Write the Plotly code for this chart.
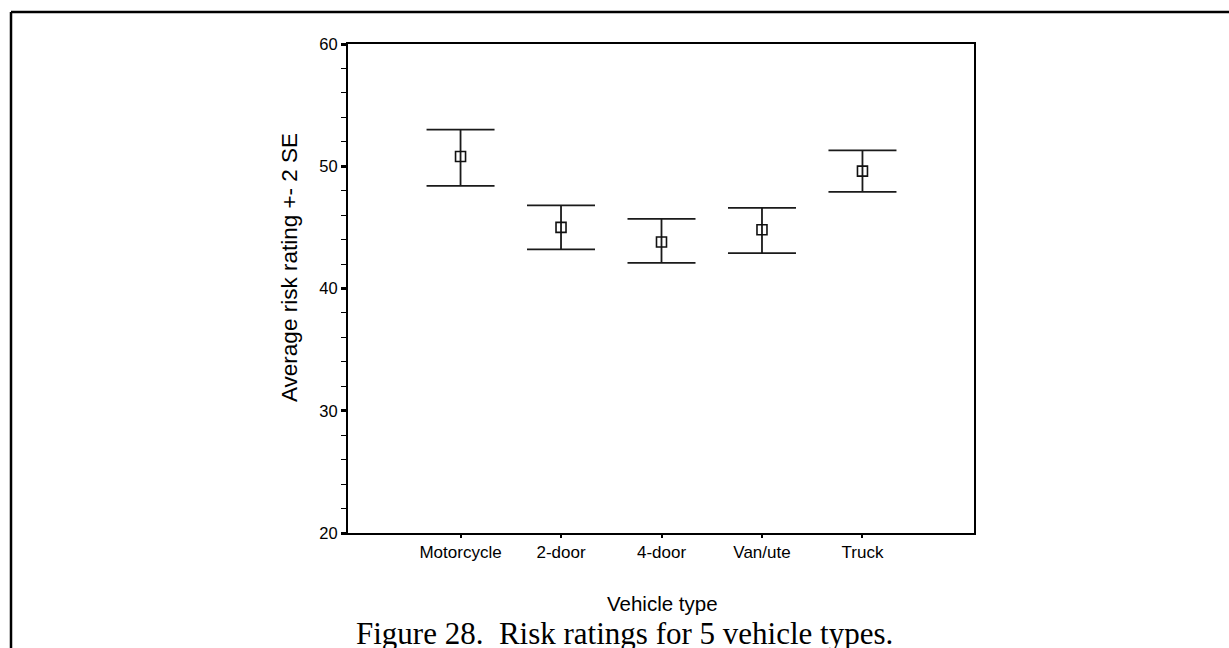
import plotly.graph_objects as go

# ---- data ----
categories = ["Motorcycle", "2-door", "4-door", "Van/ute", "Truck"]
mean_rating = [50.8, 45.0, 43.8, 44.8, 49.6]
upper_2se = [53.0, 46.8, 45.7, 46.6, 51.3]
lower_2se = [48.4, 43.2, 42.1, 42.9, 47.9]
y_ticks = [20, 30, 40, 50, 60]

# ---- layout constants (pixels) ----
W, H = 1229, 648
L, R, T, B = 348, 974, 44, 533
ml, mr, mt, mb = L, W - R, T, H - B
pw, ph = R - L, B - T

def px_x(x):
    return (x - L) / pw

def px_y(y):
    return (B - y) / ph

xpos = list(range(len(categories)))
err_plus = [u - m for u, m in zip(upper_2se, mean_rating)]
err_minus = [m - l for m, l in zip(mean_rating, lower_2se)]

fig = go.Figure()
fig.add_trace(go.Scatter(
    x=xpos, y=mean_rating, mode="markers",
    marker=dict(symbol="square-open", size=10, color="#111111",
                line=dict(width=1.6, color="#111111")),
    error_y=dict(type="data", symmetric=False, array=err_plus, arrayminus=err_minus,
                 color="#1a1a1a", thickness=1.8, width=34),
    showlegend=False, hoverinfo="skip",
))

sans = "Liberation Sans, Arial, sans-serif"
ytick_font = dict(family=sans, size=16.5, color="#000000")
xtick_font = dict(family=sans, size=17, color="#000000")

fig.update_layout(
    width=W, height=H,
    margin=dict(l=ml, r=mr, t=mt, b=mb, pad=0),
    paper_bgcolor="white", plot_bgcolor="white",
    font=dict(family=sans, color="#000000"),
    xaxis=dict(
        range=[-1.12, 5.11], tickmode="array", tickvals=xpos, ticktext=categories,
        showgrid=False, zeroline=False, showline=True, linecolor="#000000",
        linewidth=2, mirror=True, ticks="outside", ticklen=3, tickwidth=2,
        tickcolor="#000000", tickfont=xtick_font,
    ),
    yaxis=dict(
        range=[20, 60], tickmode="array", tickvals=y_ticks,
        showgrid=False, zeroline=False, showline=True, linecolor="#000000",
        linewidth=2, mirror=True, ticks="outside", ticklen=5, tickwidth=3,
        tickcolor="#000000", tickfont=ytick_font,
        minor=dict(dtick=2, ticks="outside", ticklen=5, tickwidth=1, tickcolor="#000000", showgrid=False),
    ),
    annotations=[
        dict(text="Average risk rating +- 2 SE", xref="paper", yref="paper",
             x=px_x(289), y=px_y(268), textangle=-90, showarrow=False,
             xanchor="center", yanchor="middle",
             font=dict(family=sans, size=22.5, color="#000000")),
        dict(text="Vehicle type", xref="paper", yref="paper",
             x=px_x(662), y=px_y(603), showarrow=False,
             xanchor="center", yanchor="middle",
             font=dict(family=sans, size=20.5, color="#000000")),
        dict(text="Figure 28.  Risk ratings for 5 vehicle types.", xref="paper", yref="paper",
             x=px_x(624), y=px_y(633), showarrow=False,
             xanchor="center", yanchor="middle",
             font=dict(family="Liberation Serif, Times New Roman, serif", size=31, color="#000000")),
    ],
    shapes=[
        dict(type="line", xref="paper", yref="paper", x0=px_x(11), x1=px_x(W + 5),
             y0=px_y(12), y1=px_y(12), line=dict(color="#000000", width=2.5)),
        dict(type="line", xref="paper", yref="paper", x0=px_x(11), x1=px_x(11),
             y0=px_y(12), y1=px_y(H + 5), line=dict(color="#000000", width=2.5)),
    ],
)

fig.write_html("out.html")
